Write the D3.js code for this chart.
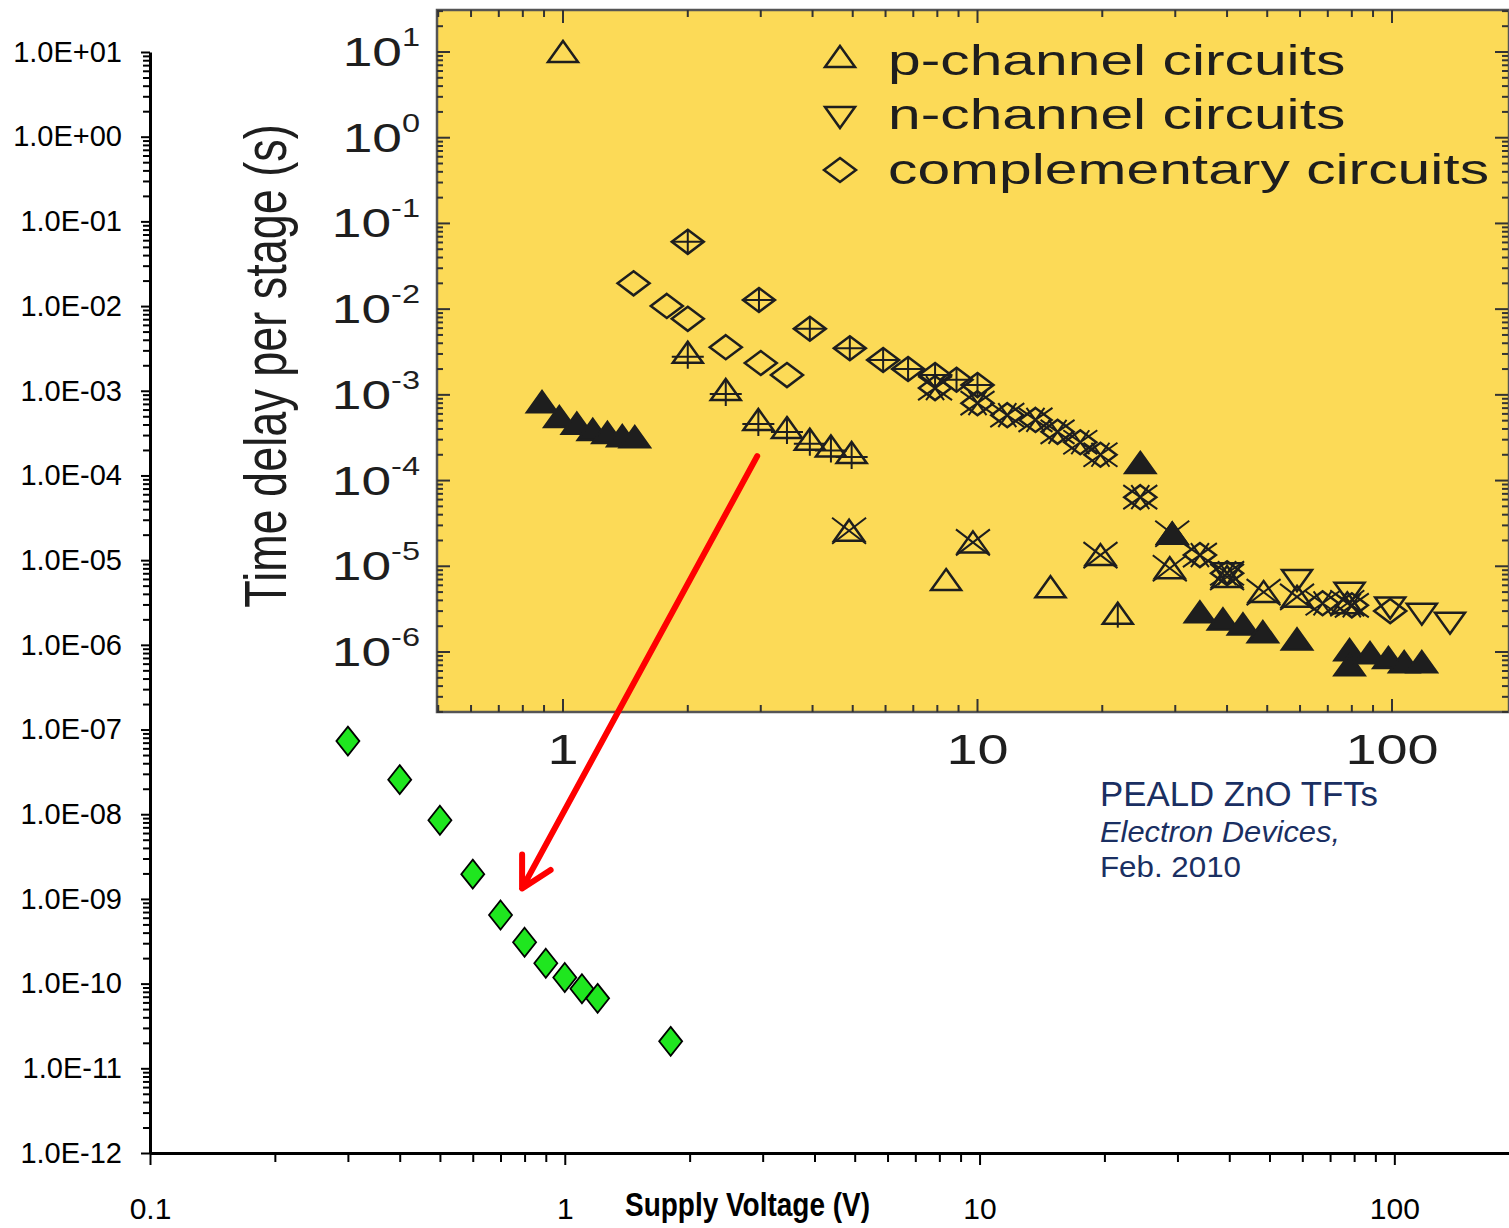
<!DOCTYPE html>
<html>
<head>
<meta charset="utf-8">
<script src="https://cdn.jsdelivr.net/npm/d3@7"></script>
<style>
  body { margin: 0; background: #fff; }
  svg { display: block; }
</style>
</head>
<body>
<div id="chart"></div>
<script>
// ---- outer chart: supply voltage vs delay (green diamonds)
const supplyV = [0.3, 0.4, 0.5, 0.6, 0.7, 0.8, 0.9, 1.0, 1.1, 1.2, 1.8];
const delayS  = [7.3e-8, 2.56e-8, 8.5e-9, 1.96e-9, 6.45e-10, 3.08e-10, 1.74e-10, 1.18e-10, 8.7e-11, 6.7e-11, 2.08e-11];

// ---- inset (PEALD ZnO TFTs), points as [volts, seconds]
const pOpen   = [[1, 10], [8.4, 6.9e-6], [15, 5.7e-6]];
const pLine   = [[21.8, 2.8e-6]];
const pFilled = [[0.89, 8.2e-4], [0.98, 5.5e-4], [1.08, 4.6e-4], [1.18, 3.9e-4], [1.28, 3.6e-4], [1.39, 3.3e-4], [1.49, 3.2e-4],
                 [24.7, 1.6e-4], [29.5, 2.4e-5], [34.4, 2.9e-6], [39.1, 2.4e-6], [43.7, 2.1e-6], [48.8, 1.7e-6], [59, 1.4e-6],
                 [79, 1.05e-6], [79, 7.0e-7], [88.5, 9.7e-7], [98, 8.5e-7], [107, 7.6e-7], [118, 7.6e-7]];
const pCross  = [[2, 3.1e-3], [2.47, 1.14e-3], [2.96, 5.1e-4], [3.47, 4.1e-4], [3.94, 3.0e-4], [4.43, 2.5e-4], [4.97, 2.1e-4]];
const pX      = [[4.9, 2.6e-5], [9.75, 1.9e-5], [19.8, 1.35e-5], [29.5, 2.4e-5], [29.1, 9.5e-6], [40, 7.5e-6], [49, 5.0e-6], [59, 4.4e-6], [78, 3.7e-6]];
const nOpen   = [[40, 8.3e-6], [59, 6.9e-6], [79, 4.9e-6], [99, 3.3e-6], [118, 2.8e-6], [138, 2.2e-6]];
const cOpen   = [[1.48, 0.020], [1.78, 0.0109], [2.0, 0.0077], [2.47, 0.0036], [3.0, 0.00235], [3.47, 0.0017], [99, 3.0e-6]];
const cPlus   = [[2, 0.061], [2.97, 0.0128], [3.94, 0.0059], [4.92, 0.0035], [5.92, 0.00255], [6.8, 0.0020], [7.9, 1.7e-3], [8.9, 1.5e-3], [10, 1.3e-3]];
const cX      = [[7.9, 1.2e-3], [10, 8.0e-4], [11.8, 5.8e-4], [13.8, 5.1e-4], [15.6, 3.7e-4], [17.7, 2.8e-4], [19.8, 2.0e-4],
                 [24.7, 6.4e-5], [34.4, 1.35e-5], [40, 8.3e-6], [68, 3.7e-6], [80, 3.5e-6]];

const insetYExps = [1, 0, -1, -2, -3, -4, -5, -6];
const insetXLabels = [1, 10, 100];
const legendLabels = ["p-channel circuits", "n-channel circuits", "complementary circuits"];
const legendTypes = ["tri", "triDown", "dia"];
const noteLines = ["PEALD ZnO TFTs", "Electron Devices,", "Feb. 2010"];
// red arrow, in outer-axis units: from inset point to new data
const arrowFrom = [2.91, 1.69e-4];
const arrowTo = [0.789, 1.33e-9];

const W = 1509, H = 1228;
const ink = "#1e1e1e";
const yellow = "#fcda57";

const x = d3.scaleLog().domain([0.1, 189]).range([150, 1509]);
const y = d3.scaleLog().domain([1e-12, 10]).range([1153, 52]);
const ix = d3.scaleLog().domain([1, 100]).range([563, 1392]);
const iy = d3.scaleLog().domain([1e-6, 10]).range([652, 52]);

function logTicks(lo, hi) {
  const out = [];
  for (let n = Math.floor(Math.log10(lo)); n <= Math.ceil(Math.log10(hi)); n++) {
    for (let k = 1; k <= 9; k++) {
      const v = k * Math.pow(10, n);
      if (v >= lo * (1 - 1e-9) && v <= hi * (1 + 1e-9)) out.push(v);
    }
  }
  return out;
}
const isMajor = v => Math.abs(Math.log10(v) - Math.round(Math.log10(v))) < 1e-6;
const sci = v => {
  const e = Math.round(Math.log10(v));
  return "1.0E" + (e >= 0 ? "+" : "-") + String(Math.abs(e)).padStart(2, "0");
};

const svg = d3.select("#chart").append("svg")
  .attr("width", W).attr("height", H)
  .style("font-family", "'Liberation Sans', Arial, sans-serif");

svg.append("rect").attr("width", W).attr("height", H).attr("fill", "#fff");

// outer y axis
const gy = svg.append("g").attr("transform", "translate(150,0)")
  .call(d3.axisLeft(y).tickValues(logTicks(1e-12, 10)).tickSize(8).tickSizeOuter(0).tickPadding(20)
    .tickFormat(d => isMajor(d) ? sci(d) : ""));
gy.select(".domain").attr("stroke", "#000").attr("stroke-width", 3);
gy.selectAll(".tick line").attr("stroke", "#000").attr("stroke-width", 2).attr("x2", d => isMajor(d) ? -9 : -7);
gy.selectAll(".tick text").attr("fill", "#000").style("font-size", "29px").style("font-family", "'Liberation Sans', Arial, sans-serif");

// outer x axis
const gx = svg.append("g").attr("transform", "translate(0,1153)")
  .call(d3.axisBottom(x).tickValues(logTicks(0.1, 189)).tickSize(12).tickSizeOuter(0).tickPadding(33)
    .tickFormat(d => isMajor(d) ? d3.format("~g")(d) : ""));
gx.select(".domain").attr("stroke", "#000").attr("stroke-width", 3);
gx.selectAll(".tick line").attr("stroke", "#000").attr("stroke-width", 2).attr("y2", d => isMajor(d) ? 12 : 9);
gx.selectAll(".tick text").attr("fill", "#000").style("font-size", "30px").style("font-family", "'Liberation Sans', Arial, sans-serif");

svg.append("text")
  .attr("x", 625).attr("y", 1216)
  .attr("textLength", 245).attr("lengthAdjust", "spacingAndGlyphs")
  .attr("font-size", 33).attr("font-weight", "bold")
  .text("Supply Voltage (V)");

// green diamonds
svg.append("g").selectAll("path")
  .data(supplyV.map((v, i) => [v, delayS[i]]))
  .join("path")
  .attr("transform", d => `translate(${x(d[0])},${y(d[1])})`)
  .attr("d", "M0,-14.5L11.5,0L0,14.5L-11.5,0Z")
  .attr("fill", "#1fe61f")
  .attr("stroke", "#000")
  .attr("stroke-width", 1.8);

// ---- inset
const inset = svg.append("g");
const inL = 437, inR = 1508, inT = 10, inB = 712;

inset.append("rect")
  .attr("x", inL).attr("y", inT)
  .attr("width", inR - inL + 1).attr("height", inB - inT)
  .attr("fill", yellow).attr("stroke", "#555").attr("stroke-width", 2.5);

const iyTicks = logTicks(iy.invert(inB), iy.invert(inT));
const ixTicks = logTicks(ix.invert(inL), ix.invert(inR));
const tickG = inset.append("g").attr("stroke", "#333").attr("stroke-width", 2);
iyTicks.forEach(v => {
  const len = isMajor(v) ? 13 : 6;
  tickG.append("line").attr("x1", inL).attr("x2", inL + len).attr("y1", iy(v)).attr("y2", iy(v));
  tickG.append("line").attr("x1", inR).attr("x2", inR - len).attr("y1", iy(v)).attr("y2", iy(v));
});
ixTicks.forEach(v => {
  const len = isMajor(v) ? 13 : 7;
  tickG.append("line").attr("y1", inB).attr("y2", inB - len).attr("x1", ix(v)).attr("x2", ix(v));
  tickG.append("line").attr("y1", inT).attr("y2", inT + len).attr("x1", ix(v)).attr("x2", ix(v));
});

// inset y labels 10^n
insetYExps.forEach(e => {
  const t = inset.append("text")
    .attr("transform", `translate(420,${iy(Math.pow(10, e)) + 14}) scale(1.3,1)`)
    .attr("text-anchor", "end").attr("fill", ink).attr("font-size", 41);
  t.append("tspan").text("10");
  t.append("tspan").attr("dy", -20).attr("font-size", 25).text(e);
});

// inset x labels
insetXLabels.forEach(v => {
  inset.append("text")
    .attr("transform", `translate(${ix(v)},764) scale(1.3,1)`)
    .attr("text-anchor", "middle").attr("fill", ink).attr("font-size", 43)
    .text(v);
});

inset.append("text")
  .attr("transform", "translate(286,366) scale(1.3,1) rotate(-90)")
  .attr("text-anchor", "middle").attr("fill", ink).attr("font-size", 45)
  .text("Time delay per stage (s)");

// markers
const shapes = {
  tri: "M0,-11L15,10L-15,10Z",
  triDown: "M0,11L15,-10L-15,-10Z",
  dia: "M0,-12L16,0L0,12L-16,0Z"
};
const extras = {
  triPlus: "M0,-11V16M-16,4H16",
  triLine: "M0,-11V14",
  triX: "M-17,-13L17,13M-17,13L17,-13",
  diaPlus: "M0,-12V12M-16,0H16",
  diaX: "M-17,-12L17,12M-17,12L17,-12M-9,-12L9,12M-9,12L9,-12"
};
function marker(g, type, cx, cy) {
  const m = g.append("g").attr("transform", `translate(${cx},${cy})`)
    .attr("fill", "none").attr("stroke", ink).attr("stroke-width", 2.5);
  const base = type.startsWith("dia") ? "dia" : (type === "triDown" ? "triDown" : "tri");
  m.append("path").attr("d", shapes[base]).attr("fill", type === "triFill" ? ink : "none");
  if (extras[type]) m.append("path").attr("d", extras[type]).attr("stroke-width", 2);
}

const insetSeries = [
  ["dia", cOpen], ["diaPlus", cPlus], ["diaX", cX],
  ["tri", pOpen], ["triLine", pLine], ["triPlus", pCross], ["triX", pX],
  ["triDown", nOpen], ["triFill", pFilled]
];
const markG = inset.append("g");
insetSeries.forEach(([type, pts]) => pts.forEach(p => marker(markG, type, ix(p[0]), iy(p[1]))));

// legend
legendLabels.forEach((lab, i) => {
  const yy = [57, 117, 170][i];
  marker(inset, legendTypes[i], 840, yy);
  inset.append("text")
    .attr("transform", `translate(888,${[75, 129, 184][i]}) scale(1.4,1)`)
    .attr("fill", ink).attr("font-size", 42)
    .text(lab);
});

// red arrow
const a0 = [x(arrowFrom[0]), y(arrowFrom[1])];
const a1 = [x(arrowTo[0]), y(arrowTo[1])];
const ang = Math.atan2(a0[1] - a1[1], a0[0] - a1[0]);
const headLen = 34, spread = 28.5 * Math.PI / 180;
const arm = s => [a1[0] + headLen * Math.cos(ang + s), a1[1] + headLen * Math.sin(ang + s)];
const h1 = arm(spread), h2 = arm(-spread);
svg.append("path")
  .attr("d", `M${a0}L${a1}M${h1}L${a1}L${h2}`)
  .attr("fill", "none").attr("stroke", "#ff0000").attr("stroke-width", 6)
  .attr("stroke-linecap", "round").attr("stroke-linejoin", "round");

// note
const note = svg.append("g").attr("fill", "#1a2f62");
note.append("text").attr("x", 1100).attr("y", 806).attr("font-size", 35)
  .attr("textLength", 278).attr("lengthAdjust", "spacingAndGlyphs").text(noteLines[0]);
note.append("text").attr("x", 1100).attr("y", 842).attr("font-size", 30).attr("font-style", "italic")
  .attr("textLength", 240).attr("lengthAdjust", "spacingAndGlyphs").text(noteLines[1]);
note.append("text").attr("x", 1100).attr("y", 877).attr("font-size", 30)
  .attr("textLength", 141).attr("lengthAdjust", "spacingAndGlyphs").text(noteLines[2]);
</script>
</body>
</html>
